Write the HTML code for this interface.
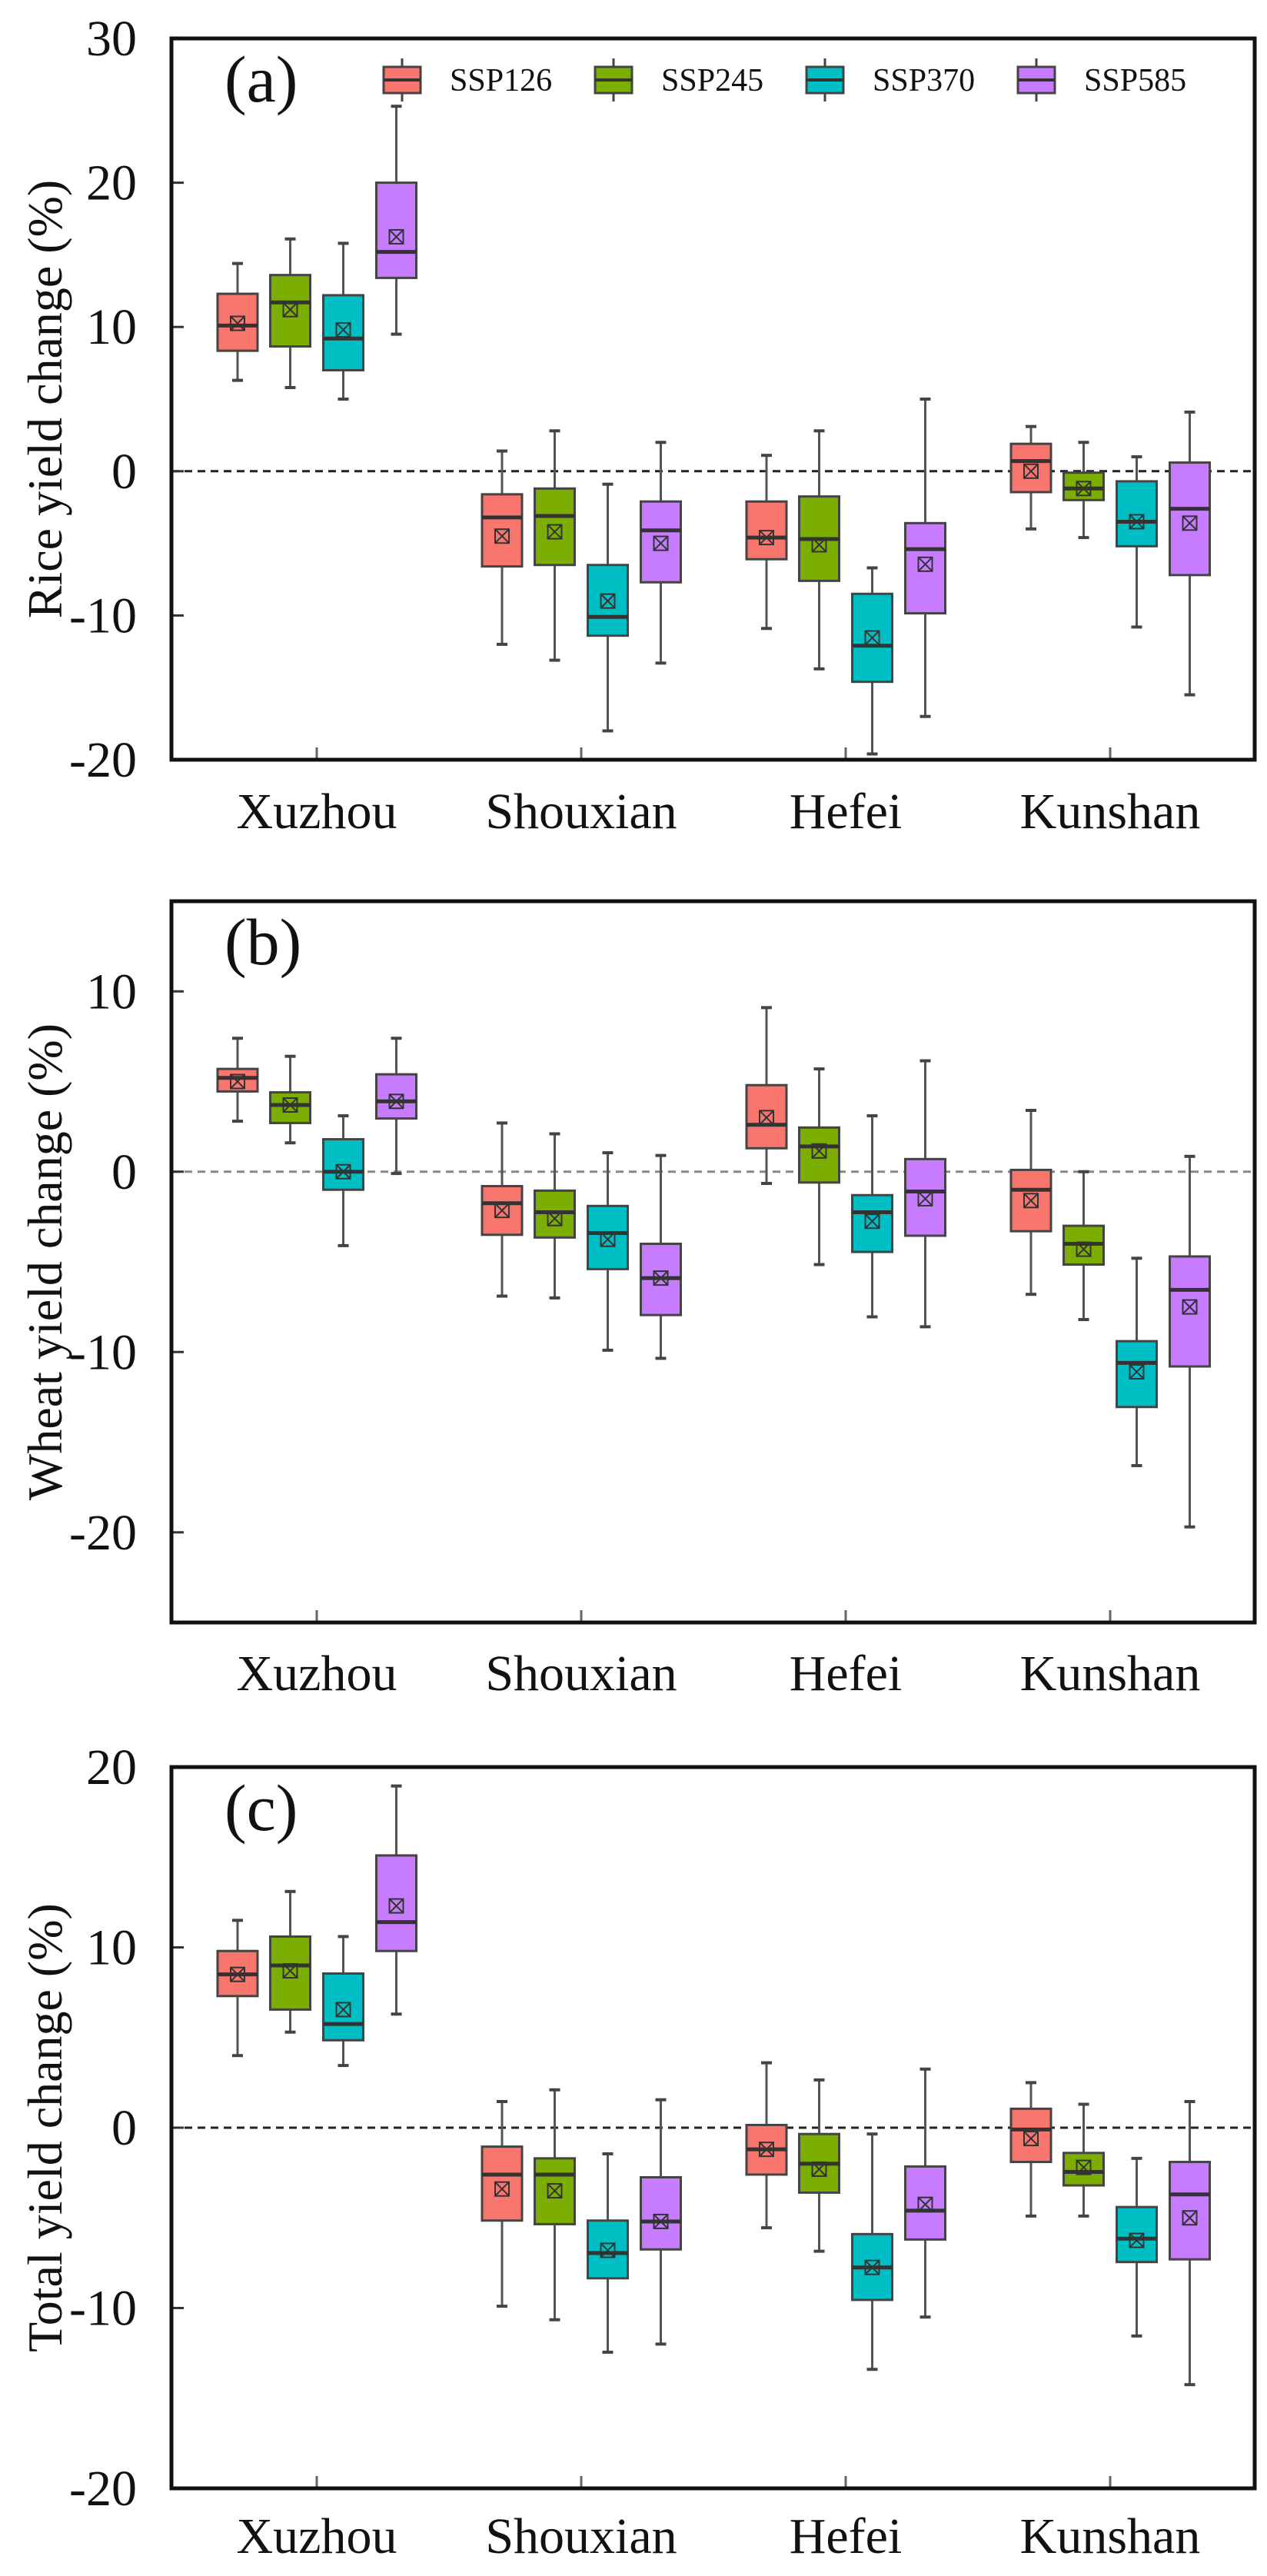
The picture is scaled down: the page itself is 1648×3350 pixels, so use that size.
<!DOCTYPE html>
<html><head><meta charset="utf-8"><style>
html,body{margin:0;padding:0;background:#fff;}
svg{display:block;font-family:"Liberation Serif",serif;}
</style></head><body>
<svg id="fig" width="1648" height="3350" viewBox="0 0 1648 3350" xmlns="http://www.w3.org/2000/svg"></svg>
<script>
const categories = ["Xuzhou","Shouxian","Hefei","Kunshan"];
const scenarios = ["SSP126","SSP245","SSP370","SSP585"];
const colors = ["#F8766D","#7CAE00","#00BFC4","#C77CFF"];
// each entry: [low, q1, median, q3, high, mean] per category, per scenario
const riceSSP126 = [[6.3,8.35,10.1,12.3,14.4,10.25],[-12.0,-6.6,-3.2,-1.6,1.4,-4.5],[-10.9,-6.1,-4.6,-2.1,1.1,-4.6],[-4.0,-1.45,0.7,1.9,3.1,0]];
const riceSSP245 = [[5.8,8.65,11.7,13.6,16.1,11.2],[-13.1,-6.5,-3.1,-1.2,2.8,-4.2],[-13.7,-7.6,-4.7,-1.75,2.8,-5.1],[-4.6,-2.0,-1.2,-0.1,2.0,-1.2]];
const riceSSP370 = [[5.0,7.0,9.2,12.2,15.8,9.8],[-18.0,-11.4,-10.1,-6.5,-0.9,-9.0],[-19.6,-14.6,-12.1,-8.5,-6.7,-11.55],[-10.8,-5.2,-3.5,-0.7,1.0,-3.5]];
const riceSSP585 = [[9.5,13.4,15.2,20.0,25.3,16.25],[-13.3,-7.7,-4.1,-2.1,2.0,-5.0],[-17.0,-9.85,-5.4,-3.6,5.0,-6.45],[-15.5,-7.2,-2.6,0.6,4.1,-3.6]];
const wheatSSP126 = [[2.8,4.45,5.2,5.7,7.4,5.0],[-6.9,-3.5,-1.75,-0.8,2.7,-2.15],[-0.65,1.3,2.6,4.8,9.1,3.0],[-6.8,-3.3,-1.0,0.1,3.4,-1.6]];
const wheatSSP245 = [[1.6,2.7,3.7,4.4,6.4,3.7],[-7.0,-3.65,-2.25,-1.05,2.1,-2.6],[-5.15,-0.6,1.4,2.45,5.7,1.15],[-8.2,-5.15,-4.0,-3.0,0,-4.3]];
const wheatSSP370 = [[-4.1,-1.0,0,1.8,3.1,0],[-9.9,-5.4,-3.4,-1.9,1.05,-3.75],[-8.05,-4.45,-2.25,-1.3,3.1,-2.75],[-16.3,-13.05,-10.6,-9.4,-4.8,-11.1]];
const wheatSSP585 = [[-0.1,2.95,3.9,5.4,7.4,3.9],[-10.35,-7.95,-5.9,-4.0,0.9,-5.9],[-8.6,-3.55,-1.1,0.7,6.15,-1.5],[-19.7,-10.8,-6.55,-4.7,0.85,-7.5]];
const totalSSP126 = [[4.0,7.3,8.5,9.8,11.5,8.5],[-9.9,-5.15,-2.6,-1.05,1.45,-3.4],[-5.55,-2.6,-1.2,0.15,3.6,-1.2],[-4.9,-1.9,-0.1,1.05,2.5,-0.6]];
const totalSSP245 = [[5.3,6.55,9.0,10.6,13.1,8.7],[-10.65,-5.35,-2.6,-1.7,2.1,-3.5],[-6.85,-3.6,-2.0,-0.35,2.65,-2.3],[-4.9,-3.2,-2.45,-1.4,1.3,-2.2]];
const totalSSP370 = [[3.45,4.85,5.75,8.55,10.6,6.55],[-12.45,-8.35,-6.95,-5.15,-1.45,-6.8],[-13.4,-9.55,-7.75,-5.9,-0.35,-7.75],[-11.55,-7.45,-6.15,-4.4,-1.7,-6.25]];
const totalSSP585 = [[6.3,9.8,11.4,15.1,18.95,12.3],[-12.0,-6.75,-5.2,-2.75,1.55,-5.2],[-10.5,-6.2,-4.6,-2.15,3.25,-4.25],[-14.25,-7.3,-3.7,-1.9,1.45,-5.0]];
const riceTicks = [30,20,10,0,-10,-20];
const wheatTicks = [10,0,-10,-20];
const totalTicks = [20,10,0,-10,-20];

const NS="http://www.w3.org/2000/svg";
const svg=document.getElementById('fig');
function mk(tag,attrs,parent){const e=document.createElementNS(NS,tag);for(const k in attrs)e.setAttribute(k,attrs[k]);(parent||svg).appendChild(e);return e;}

const L=223,R=1632,catStart=412,catStep=344,offs=[-103,-34.5,34.5,103.5],bw=52;
function xCat(i){return catStart+i*catStep;}

function panel(cfg){
  const g=mk('g',{});
  
  
  const y=v=>cfg.top+(cfg.max-v)/(cfg.max-cfg.min)*(cfg.bottom-cfg.top);
  // zero line
  const z=mk('line',{x1:L,x2:R,y1:y(0),y2:y(0),stroke:cfg.zeroColor,'stroke-width':3,'stroke-dasharray':'10 7'},g);
  
  
  // y ticks
  cfg.ticks.forEach(t=>{
    const tl=mk('line',{x1:L,x2:L+16,y1:y(t),y2:y(t),stroke:'#333','stroke-width':3},g);
    
    
    const tx=mk('text',{x:178,y:y(t)+22,'text-anchor':'end','font-size':66,fill:'#111'},g);
    tx.textContent=t;
    
    
  });
  // x ticks & labels
  categories.forEach((c,i)=>{
    const tl=mk('line',{x1:xCat(i),x2:xCat(i),y1:cfg.bottom,y2:cfg.bottom-16,stroke:'#666','stroke-width':3},g);
    
    
    const tx=mk('text',{x:xCat(i),y:cfg.labelY,'text-anchor':'middle','font-size':66,fill:'#111'},g);
    tx.textContent=c;
    
    
  });
  // boxes
  cfg.series.forEach((ser,s)=>{
    ser.forEach((d,i)=>{
      const cx=xCat(i)+offs[s];
      const [lo,q1,md,q3,hi,mean]=d;
      const bg=mk('g',{},g);
      
      
      mk('line',{x1:cx,x2:cx,y1:y(hi),y2:y(lo),stroke:'#555','stroke-width':3},bg);
      mk('line',{x1:cx-7,x2:cx+7,y1:y(hi),y2:y(hi),stroke:'#444','stroke-width':4},bg);
      mk('line',{x1:cx-7,x2:cx+7,y1:y(lo),y2:y(lo),stroke:'#444','stroke-width':4},bg);
      mk('rect',{x:cx-bw/2,y:y(q3),width:bw,height:y(q1)-y(q3),fill:colors[s],stroke:'#444','stroke-width':3},bg);
      mk('line',{x1:cx-bw/2,x2:cx+bw/2,y1:y(md),y2:y(md),stroke:'#333','stroke-width':5},bg);
      const my=y(mean),h=9;
      mk('rect',{x:cx-h,y:my-h,width:2*h,height:2*h,fill:'none',stroke:'#333','stroke-width':2},bg);
      mk('path',{d:`M${cx-h} ${my-h}L${cx+h} ${my+h}M${cx+h} ${my-h}L${cx-h} ${my+h}`,stroke:'#333','stroke-width':2},bg);
    });
  });
  // frame
  const f=mk('rect',{x:L,y:cfg.top,width:R-L,height:cfg.bottom-cfg.top,fill:'none',stroke:'#111','stroke-width':5},g);
  
  
  // panel letter
  const pl=mk('text',{x:292,y:cfg.top+82,'font-size':86,fill:'#111'},g);
  pl.textContent=cfg.letter;
  
  
  // y title
  const cy=(cfg.top+cfg.bottom)/2;
  const yt=mk('text',{x:0,y:0,'text-anchor':'middle','font-size':64,fill:'#111',transform:`translate(80 ${cy}) rotate(-90)`},g);
  yt.textContent=cfg.title;
  
  
}

panel({name:'rice-panel',letter:'(a)',title:'Rice yield change (%)',top:50,bottom:988,max:30,min:-20,ticks:riceTicks,labelY:1077,zeroColor:'#222',series:[riceSSP126,riceSSP245,riceSSP370,riceSSP585]});
panel({name:'wheat-panel',letter:'(b)',title:'Wheat yield change (%)',top:1172,bottom:2110,max:15,min:-25,ticks:wheatTicks,labelY:2198,zeroColor:'#888',series:[wheatSSP126,wheatSSP245,wheatSSP370,wheatSSP585]});
panel({name:'total-panel',letter:'(c)',title:'Total yield change (%)',top:2298,bottom:3236,max:20,min:-20,ticks:totalTicks,labelY:3320,zeroColor:'#222',series:[totalSSP126,totalSSP245,totalSSP370,totalSSP585]});

// legend
const lg=mk('g',{});


const legX=[523,798,1073,1348];
scenarios.forEach((s,i)=>{
  const e=mk('g',{},lg);
  
  
  const cx=legX[i],cy=104;
  mk('line',{x1:cx,x2:cx,y1:cy-28,y2:cy+28,stroke:'#444','stroke-width':3},e);
  mk('rect',{x:cx-24,y:cy-17,width:48,height:34,fill:colors[i],stroke:'#444','stroke-width':3},e);
  mk('line',{x1:cx-24,x2:cx+24,y1:cy,y2:cy,stroke:'#333','stroke-width':4},e);
  const t=mk('text',{x:cx+62,y:cy+14,'font-size':42,fill:'#111'},e);
  t.textContent=s;
});
</script>
</body></html>
